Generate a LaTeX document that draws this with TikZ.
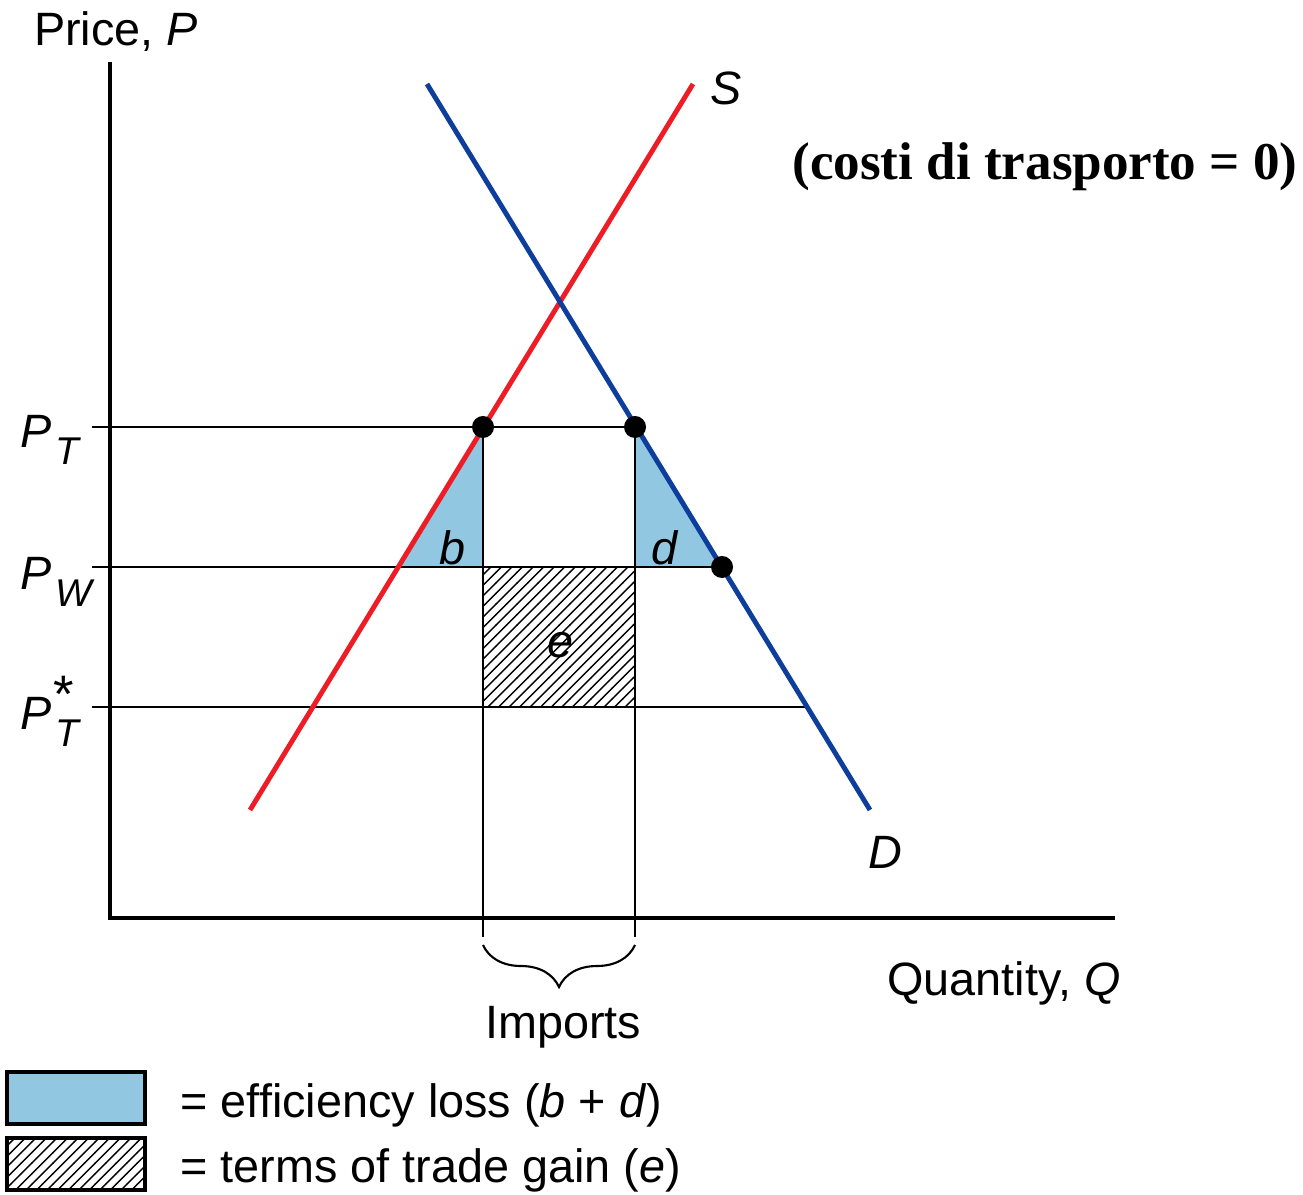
\documentclass[tikz,border=0pt]{standalone}
\usepackage{fontspec}
\setmainfont{Liberation Sans}
\newfontfamily\titlefont{Liberation Serif}
\usepackage{xcolor}
\definecolor{supplyred}{HTML}{EE1C25}
\definecolor{demandblue}{HTML}{0D3E9B}
\definecolor{lossblue}{HTML}{91C7E1}
\usepackage{tikz}
\usetikzlibrary{patterns,decorations.pathreplacing}
\newcommand{\pricelab}[2]{\textit{P}\kern1pt\raisebox{-4.6pt}{\fontsize{11}{11}\selectfont\textit{#1}}\hspace{-8pt}\raisebox{5pt}{\fontsize{15}{15}\selectfont #2}}
\begin{document}
\begin{tikzpicture}[x=0.01cm,y=-0.01cm,
  lab/.style={inner sep=0pt,font=\fontsize{13.3}{16}\selectfont},
  axis/.style={draw=black,line width=1.3pt},
  guide/.style={draw=black,line width=0.6pt},
  curve/.style={line width=1.4pt},
  loss/.style={fill=lossblue},
  gain/.style={pattern=north east lines},
  dot/.style={fill=black}
]
\useasboundingbox (0,0) rectangle (1303,1195);
\coordinate (ytop) at (110,62);
\coordinate (origin) at (110,918);
\coordinate (xend) at (1115,918);
\coordinate (s0) at (250,810);
\coordinate (s1) at (693,84);
\coordinate (d0) at (427,84);
\coordinate (d1) at (870,810);
\coordinate (tT) at (92,427);
\coordinate (tW) at (92,567);
\coordinate (tS) at (92,707);
\coordinate (sT) at (483,427);
\coordinate (sW) at (398,567);
\coordinate (mW) at (483,567);
\coordinate (dT) at (635,427);
\coordinate (nW) at (635,567);
\coordinate (dW) at (722,567);
\coordinate (mS) at (483,707);
\coordinate (nS) at (635,707);
\coordinate (dS) at (807,707);
\coordinate (vL) at (483,937);
\coordinate (vR) at (635,937);
\coordinate (bL) at (483,945);
\coordinate (bR) at (635,945);

\fill[loss] (sW) -- (sT) -- (mW) -- cycle;
\fill[loss] (dT) -- (nW) -- (dW) -- cycle;
\fill[gain] (mW) rectangle (nS);

\draw[guide] (tT) -- (dT);
\draw[guide] (tW) -- (dW);
\draw[guide] (tS) -- (dS);
\draw[guide] (sT) -- (vL);
\draw[guide] (dT) -- (vR);
\draw[guide,decorate,decoration={brace,mirror,amplitude=0.42cm}] (bL) -- (bR);
\draw[axis] (ytop) -- (origin) -- (xend);

\draw[curve,supplyred] (s0) -- (s1);
\draw[curve,demandblue] (d0) -- (d1);
\fill[dot] (sT) circle (0.11cm);
\fill[dot] (dT) circle (0.11cm);
\fill[dot] (dW) circle (0.11cm);

\node[lab] (price) at (116,32) {Price, \textit{P}};
\node[lab] (slab) at (726,88) {\textit{S}};
\node[lab] (dlab) at (885,852) {\textit{D}};
\node[lab] (qty) at (1004,983) {Quantity, \textit{Q}};
\node[lab] (imports) at (563,1027) {Imports};
\node[lab] (blab) at (453,548) {\textit{b}};
\node[lab] (dtri) at (665,548) {\textit{d}};
\node[lab] (elab) at (560,645) {\textit{e}};
\node[lab,anchor=base west] (pT) at (20,448) {\pricelab{T}{}};
\node[lab,anchor=base west] (pW) at (20,590) {\pricelab{W}{}};
\node[lab,anchor=base west] (pS) at (20,730) {\pricelab{T}{*}};
\node[font=\titlefont\bfseries\fontsize{15.1}{18}\selectfont,inner sep=0pt] (note) at (1045,167) {(costi di trasporto = 0)};

\draw[line width=1pt,loss] (7,1072) rectangle (145,1124);
\draw[line width=1pt,gain] (7,1138) rectangle (145,1190);
\node[lab,anchor=base west] (keyloss) at (180,1117) {= efficiency loss (\textit{b} + \textit{d})};
\node[lab,anchor=base west] (keygain) at (180,1182) {= terms of trade gain (\textit{e})};
\end{tikzpicture}
\end{document}
